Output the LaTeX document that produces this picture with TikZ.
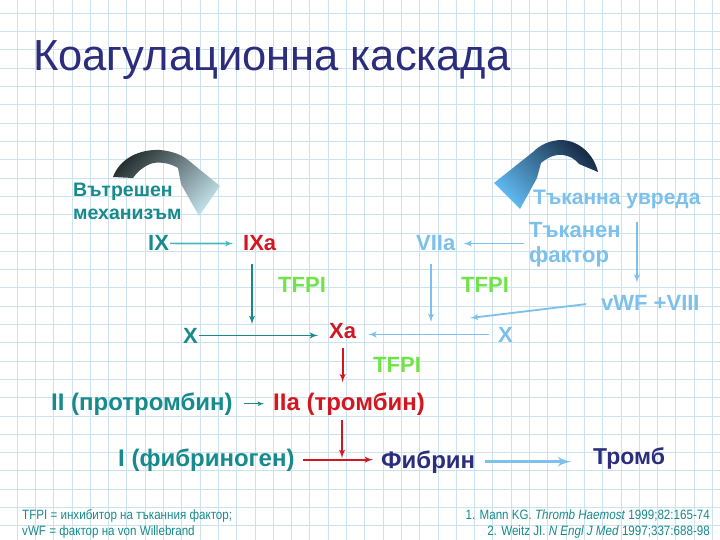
\documentclass[tikz,border=0pt]{standalone}
\usepackage{fontspec}
\setmainfont{Liberation Sans}
\newfontfamily\titlefont{Liberation Sans}
\newfontfamily\notefont[FakeStretch=0.86]{Liberation Sans}
\usepackage{xcolor}
\usepackage{tikz}
\usetikzlibrary{shapes,arrows}
\definecolor{gridblue}{RGB}{203,227,238}
\definecolor{tealf}{RGB}{22,138,140}
\definecolor{tealarrow}{RGB}{72,182,192}
\definecolor{redf}{RGB}{212,22,32}
\definecolor{greenf}{RGB}{112,228,70}
\definecolor{lblue}{RGB}{125,192,236}
\definecolor{navyf}{RGB}{45,45,125}
\definecolor{arcdark}{RGB}{40,50,50}
\definecolor{arclight}{RGB}{190,220,228}
\definecolor{arcnavy}{RGB}{25,45,72}
\definecolor{arcsky}{RGB}{95,185,240}

\begin{document}
\begin{tikzpicture}[x=1pt, y=-1pt]
	\tikzstyle{gridline} = [gridblue, line width=0.8pt]
	\tikzstyle{factor} = [inner sep=1pt, anchor=base west, font=\bfseries\fontsize{22}{26}\selectfont]
	\tikzstyle{bigfactor} = [inner sep=1pt, anchor=base west, font=\bfseries\fontsize{24}{28}\selectfont]
	\tikzstyle{boldfactor} = [inner sep=1pt, anchor=base west, align=left, font=\bfseries\fontsize{21}{24}\selectfont]
	\tikzstyle{tfpi} = [factor, text=greenf]
	\tikzstyle{note} = [inner sep=0pt, anchor=base west, text=tealf, font=\notefont\fontsize{13.5}{16}\selectfont]
	\tikzstyle{line} = [draw, -latex', line width=1.8pt]
	% Background
	\useasboundingbox (0,0) rectangle (720,540);
	\fill[white] (0,0) rectangle (720,540);
	\foreach \i in {0,...,38}
		\draw[gridline] ({17+18.3*\i},0) -- ({17+18.3*\i},540);
	\foreach \i in {0,...,29}
		\draw[gridline] (0,{13.3+18.3*\i}) -- (720,{13.3+18.3*\i});
	% Title
	\node [inner sep=0pt, anchor=base west, text=navyf, font=\titlefont\fontsize{43.5}{50}\selectfont] (title) at (33,71) {Коагулационна каскада};
	% Curved arrows
	\shade [top color=arcdark, bottom color=arclight, shading angle=45]
		(113,177) .. controls (120,158) and (140,149) .. (160,150)
		.. controls (172,151) and (182,155) .. (188,160) -- (220,186) -- (199,216)
		-- (181,184) -- (178,168) .. controls (170,163) and (158,161) .. (150,164)
		.. controls (143,167) and (137,172) .. (133,178) -- cycle;
	\shade [top color=arcnavy, bottom color=arcsky, shading angle=-45]
		(598,172) .. controls (594,155) and (580,141) .. (562,140)
		.. controls (550,140) and (540,145) .. (533,152) -- (494,183) -- (520,209)
		-- (537,178) -- (541,163) .. controls (548,157) and (556,154) .. (563,155)
		.. controls (570,156) and (575,159) .. (579,164) -- cycle;
	% Place nodes
	\node [boldfactor, text=tealf, font=\bfseries\fontsize{19.5}{22.5}\selectfont] (intrinsic) at (72,219) {Вътрешен\\механизъм};
	\node [factor, text=tealf] (ix) at (147,251) {IX};
	\node [factor, text=redf] (ixa) at (242,251) {IXa};
	\node [factor, text=lblue] (viia) at (415,251) {VIIa};
	\node [boldfactor, text=lblue] (injury) at (532,205) {Тъканна увреда};
	\node [boldfactor, text=lblue, font=\bfseries\fontsize{22}{25}\selectfont] (tf) at (528,262) {Тъканен\\фактор};
	\node [tfpi] (tfpi1) at (277,292) {TFPI};
	\node [tfpi] (tfpi2) at (460,292) {TFPI};
	\node [factor, text=lblue] (vwf) at (600,310) {vWF +VIII};
	\node [factor, text=tealf] (xl) at (182,343) {X};
	\node [factor, text=redf] (xa) at (328,338) {Xa};
	\node [factor, text=lblue] (xr) at (497,342) {X};
	\node [tfpi] (tfpi3) at (372,372) {TFPI};
	\node [bigfactor, text=tealf] (ii) at (50,410) {II (протромбин)};
	\node [bigfactor, text=redf] (iia) at (272,410) {IIa (тромбин)};
	\node [bigfactor, text=tealf] (fbg) at (117,466) {I (фибриноген)};
	\node [boldfactor, text=navyf, font=\bfseries\fontsize{24}{28}\selectfont] (fibrin) at (380,468) {Фибрин};
	\node [boldfactor, text=navyf, font=\bfseries\fontsize{23}{27}\selectfont] (thromb) at (592,464) {Тромб};
	\node [note] (abbr1) at (22,519) {TFPI = инхибитор на тъканния фактор;};
	\node [note] (abbr2) at (22,535) {vWF = фактор на von Willebrand};
	\node [note, anchor=base east] (ref1) at (710,519) {1. Mann KG. \textit{Thromb Haemost} 1999;82:165-74};
	\node [note, anchor=base east] (ref2) at (710,535) {2. Weitz JI. \textit{N Engl J Med} 1997;337:688-98};
	\coordinate (m1) at (252,324);
	\coordinate (m2) at (431,322);
	\coordinate (m3) at (637,222);
	\coordinate (m4) at (470,318);
	\coordinate (m5) at (342,458);
	% Draw edges
	\path [line, tealarrow, line width=1.6pt, shorten >=9pt] (ix) -- (ixa);
	\path [line, tealf, shorten <=12pt] (m1 |- ixa.south) -- (m1);
	\path [line, tealf, shorten >=10pt] (xl.east) -- (xl.east -| xa.west);
	\path [line, lblue, shorten <=12pt] (m2 |- viia.south) -- (m2);
	\path [line, lblue, shorten <=8pt, shorten >=11pt] (xr.west) -- (xr.west -| xa.east);
	\path [line, lblue, shorten <=4pt, shorten >=7pt] (tf.west |- viia) -- (viia.east);
	\path [line, lblue, shorten >=11pt] (m3) -- (m3 |- vwf.north);
	\path [line, lblue, shorten <=14pt] (vwf.west) -- (m4);
	\path [line, redf, shorten <=9pt, shorten >=9pt] (xa.south) -- (xa.south |- iia.north);
	\path [line, tealf, line width=1.2pt, shorten <=10pt, shorten >=8pt] (ii.east) -- (iia.west);
	\path [line, redf, shorten <=4pt] (m5 |- iia.south) -- (m5);
	\path [line, redf, shorten <=7pt, shorten >=7pt] (fbg.east) -- (fbg.east -| fibrin.west);
	\path [line, lblue, line width=3.5pt, shorten <=9pt, shorten >=21pt] (fibrin.east) -- (fibrin.east -| thromb.west);
\end{tikzpicture}
\end{document}
